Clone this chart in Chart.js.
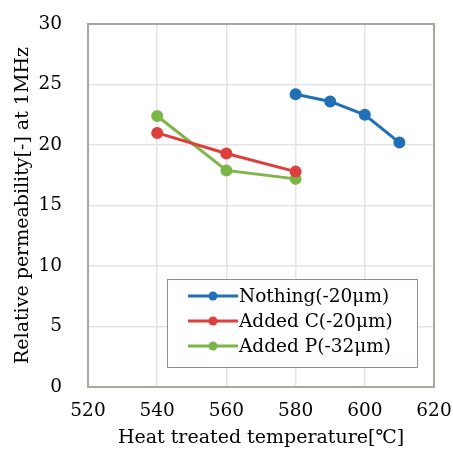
<!DOCTYPE html>
<html>
<head>
<meta charset="utf-8">
<script src="https://cdn.jsdelivr.net/npm/chart.js@4"></script>
<style>
  html, body { margin: 0; padding: 0; background: #fff; }
  #wrap { width: 453px; height: 460px; }
</style>
</head>
<body>
<div id="wrap"><canvas id="myChart" width="453" height="460"></canvas></div>
<script>
// values
const tempNothing = [580, 590, 600, 610];
const permNothing = [24.2, 23.6, 22.5, 20.2];
const tempAddedC = [540, 560, 580];
const permAddedC = [21.0, 19.3, 17.8];
const tempAddedP = [540, 560, 580];
const permAddedP = [22.4, 17.9, 17.2];
const seriesNames = ['Nothing(-20μm)', 'Added C(-20μm)', 'Added P(-32μm)'];
const colores = ['rgb(31,112,184)', 'rgb(222,62,60)', 'rgb(122,182,72)'];

function pares(xs, ys) {
    const out = [];
    for (let i = 0; i < xs.length; i++) out.push({x: xs[i], y: ys[i]});
    return out;
}

const serif = "'DejaVu Serif', 'Liberation Serif', serif";

const allData = [pares(tempNothing, permNothing), pares(tempAddedC, permAddedC), pares(tempAddedP, permAddedP)];
const datasets = allData.map((d, i) => ({
    label: seriesNames[i],
    data: d,
    borderColor: colores[i],
    backgroundColor: colores[i],
    borderWidth: 3,
    pointRadius: 4.5,
    pointHoverRadius: 4.5,
    showLine: true,
    tension: 0
}));

// legend drawn inside the plot area
const legendaDentro = {
    id: 'legendaDentro',
    afterDraw(chart) {
        const ctx = chart.ctx;
        const x0 = 167, y0 = 279, w = 250, h = 88;
        ctx.save();
        ctx.fillStyle = '#fff';
        ctx.fillRect(x0, y0, w, h);
        ctx.strokeStyle = 'rgb(150,140,135)';
        ctx.lineWidth = 1;
        ctx.strokeRect(x0 + 0.5, y0 + 0.5, w, h);
        ctx.font = '18.5px ' + serif;
        ctx.textBaseline = 'middle';
        chart.data.datasets.forEach((ds, i) => {
            const y = 296 + i * 25;
            ctx.strokeStyle = ds.borderColor;
            ctx.lineWidth = 3;
            ctx.beginPath();
            ctx.moveTo(188, y);
            ctx.lineTo(238, y);
            ctx.stroke();
            ctx.fillStyle = ds.borderColor;
            ctx.beginPath();
            ctx.arc(213, y, 4.5, 0, Math.PI * 2);
            ctx.fill();
            ctx.fillStyle = '#000';
            ctx.fillText(ds.label, 239, y + 1);
        });
        ctx.restore();
    }
};

const bordeArea = {
    id: 'bordeArea',
    afterDatasetsDraw(chart) {
        const a = chart.chartArea;
        const ctx = chart.ctx;
        ctx.save();
        ctx.strokeStyle = 'rgb(175,165,160)';
        ctx.lineWidth = 2;
        ctx.strokeRect(a.left, a.top, a.right - a.left, a.bottom - a.top);
        ctx.restore();
    }
};

function sinPadding(s) {
    s.paddingLeft = 0; s.paddingRight = 0; s.paddingTop = 0; s.paddingBottom = 0;
}

const config = {
    type: 'scatter',
    data: { datasets: datasets },
    options: {
        responsive: false,
        animation: false,
        layout: { padding: { top: 24, right: 19, left: 8, bottom: 11 } },
        plugins: {
            legend: { display: false },
            tooltip: { enabled: false }
        },
        scales: {
            x: {
                type: 'linear',
                min: 520, max: 620,
                ticks: { stepSize: 20, color: '#000', font: { family: serif, size: 18.5 }, padding: 13 },
                grid: { color: 'rgb(228,228,228)', lineWidth: 1.5, drawTicks: false },
                border: { display: false },
                title: { display: true, text: 'Heat treated temperature[℃]', color: '#000', font: { family: serif, size: 19 }, padding: { top: 4, bottom: 0 } },
                afterFit(s) { s.height = 62; sinPadding(s); }
            },
            y: {
                min: 0, max: 30,
                ticks: { stepSize: 5, color: '#000', font: { family: serif, size: 18.5 }, padding: 26 },
                grid: { color: 'rgb(228,228,228)', lineWidth: 1.5, drawTicks: false },
                border: { display: false },
                title: { display: true, text: 'Relative permeability[-] at 1MHz', color: '#000', font: { family: serif, size: 19 }, padding: { bottom: 0 } },
                afterFit(s) { s.width = 80; sinPadding(s); }
            }
        }
    },
    plugins: [bordeArea, legendaDentro]
};

new Chart(document.getElementById('myChart'), config);
</script>
</body>
</html>
